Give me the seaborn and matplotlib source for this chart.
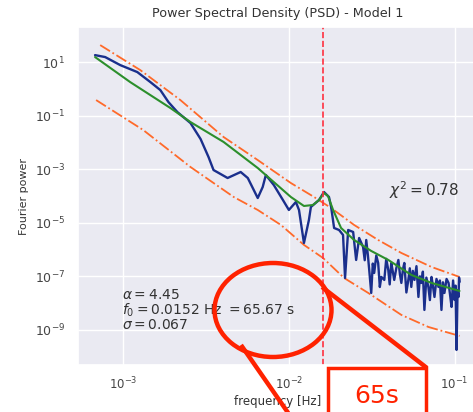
import numpy as np
import pandas as pd
import matplotlib
matplotlib.use("Agg")
import matplotlib.pyplot as plt
from matplotlib.patches import Ellipse, Rectangle
from matplotlib.ticker import FixedLocator, NullLocator
import seaborn as sns

# ---------------- data ----------------
psd_freq = [6.76e-4, 7.78e-4, 9.59e-4, 1.216e-3, 1.459e-3, 1.675e-3, 1.875e-3, 2.123e-3,
            2.547e-3, 2.931e-3, 3.273e-3, 3.508e-3, 4.266e-3, 5.117e-3, 5.649e-3, 6.053e-3,
            6.486e-3, 6.950e-3, 7.261e-3, 8.110e-3, 9.204e-3, 1.000e-2, 1.102e-2, 1.151e-2,
            1.233e-2, 1.321e-2, 1.358e-2, 1.521e-2, 1.629e-2, 1.746e-2, 1.799e-2, 1.875e-2,
            2.009e-2, 2.123e-2, 2.183e-2, 2.280e-2, 2.443e-2, 2.547e-2, 2.655e-2,
            2.805e-2, 2.87e-2, 2.931e-2, 3.0e-2, 3.055e-2, 3.141e-2, 3.21e-2, 3.273e-2,
            3.37e-2, 3.459e-2, 3.54e-2, 3.614e-2, 3.767e-2, 3.87e-2, 3.981e-2, 4.06e-2,
            4.150e-2, 4.24e-2, 4.325e-2, 4.45e-2, 4.581e-2, 4.68e-2, 4.775e-2, 4.88e-2,
            4.977e-2, 5.12e-2, 5.260e-2, 5.37e-2, 5.483e-2, 5.60e-2, 5.728e-2, 5.89e-2,
            6.053e-2, 6.18e-2, 6.310e-2, 6.44e-2, 6.577e-2, 6.76e-2, 6.950e-2, 7.10e-2,
            7.261e-2, 7.40e-2, 7.568e-2, 7.78e-2, 7.998e-2, 8.16e-2, 8.337e-2, 8.51e-2,
            8.690e-2, 8.95e-2, 9.204e-2, 9.40e-2, 9.594e-2, 9.80e-2, 1.000e-1, 1.014e-1,
            1.028e-1, 1.043e-1, 1.057e-1, 1.065e-1, 1.072e-1]
psd_power = [1.82e1, 1.54e1, 7.73, 4.24, 1.79, 0.902, 0.321, 0.136,
             5.30e-2, 1.34e-2, 2.85e-3, 9.33e-4, 4.70e-4, 7.87e-4, 4.70e-4, 1.99e-4,
             8.41e-5, 2.17e-4, 6.08e-4, 2.57e-4, 7.10e-5, 3.01e-5, 5.97e-5, 3.01e-5,
             1.76e-6, 1.27e-5, 3.89e-5, 7.10e-5, 1.41e-4, 9.18e-5, 3.89e-5, 6.40e-6,
             5.38e-6, 3.51e-6, 8.71e-8, 5.38e-6, 4.54e-6, 4.09e-7, 2.71e-6,
             1.25e-6, 4.0e-7, 2.28e-6, 6.0e-7, 1.73e-7, 2.40e-8, 3.0e-7, 1.34e-7,
             6.0e-7, 3.16e-7, 4.0e-8, 9.51e-8, 7.34e-8, 4.5e-7, 1.73e-7, 5.0e-8,
             3.16e-7, 1.5e-7, 7.34e-8, 2.0e-7, 4.09e-7, 1.2e-7, 5.68e-8, 1.8e-7,
             3.16e-7, 2.5e-8, 7.34e-8, 2.0e-7, 4.02e-8, 1.6e-7, 7.34e-8, 2.4e-7,
             1.70e-8, 1.0e-7, 5.68e-8, 1.5e-7, 5.57e-9, 9.0e-8, 4.02e-8, 1.3e-8,
             9.51e-8, 4.5e-8, 1.70e-8, 8.0e-8, 4.02e-8, 7.0e-8, 5.57e-9, 6.0e-8,
             2.40e-8, 8.0e-8, 5.68e-8, 2.0e-8, 7.21e-9, 7.0e-8, 1.32e-8, 4.5e-8,
             1.79e-10, 3.0e-8, 1.70e-8, 9.0e-8, 6.18e-8]

fit_freq = [6.76e-4, 1.102e-3, 1.928e-3, 2.547e-3, 4.036e-3, 6.486e-3, 1.028e-2, 1.233e-2,
            1.396e-2, 1.521e-2, 1.629e-2, 1.722e-2, 1.849e-2, 2.065e-2, 2.477e-2, 3.141e-2,
            3.981e-2, 5.483e-2, 7.261e-2, 1.072e-1]
fit_power = [1.54e1, 1.79, 0.192, 5.77e-2, 1.04e-2, 1.11e-3, 9.18e-5, 4.24e-5,
             4.61e-5, 7.10e-5, 1.29e-4, 1.00e-4, 3.01e-5, 6.40e-6, 2.28e-6, 8.87e-7,
             4.09e-7, 1.13e-7, 5.68e-8, 2.85e-8]

upper_freq = [7.26e-4, 1.268e-3, 2.213e-3, 4.036e-3, 6.486e-3, 1.028e-2, 1.419e-2,
              1.799e-2, 2.477e-2, 3.459e-2, 4.775e-2, 7.261e-2, 1.072e-1]
upper_power = [43.1, 5.02, 0.382, 1.59e-2, 2.20e-3, 3.05e-4, 9.18e-5,
               3.56e-5, 8.28e-6, 2.28e-6, 7.46e-7, 2.24e-7, 9.51e-8]

lower_freq = [6.86e-4, 1.321e-3, 2.547e-3, 4.645e-3, 6.486e-3, 8.954e-3, 1.233e-2,
              1.607e-2, 2.153e-2, 3.013e-2, 4.775e-2, 6.950e-2, 1.072e-1]
lower_power = [0.382, 2.90e-2, 1.21e-3, 9.18e-5, 3.01e-5, 8.28e-6, 1.49e-6,
               4.86e-7, 8.71e-8, 2.40e-8, 3.63e-9, 1.29e-9, 5.97e-10]

f0_line = 0.0161
x_ticks = [1e-3, 1e-2, 1e-1]
y_ticks = [1e1, 1e-1, 1e-3, 1e-5, 1e-7, 1e-9]

title = "Power Spectral Density (PSD) - Model 1"
xlabel = "frequency [Hz]"
ylabel = "Fourier power"
fit_text = "$\\alpha = 4.45$\n$f_0 = 0.0152$ Hz $= 65.67$ s\n$\\sigma = 0.067$"
chi_text = "$\\chi^2 = 0.78$"
callout_text = "65s"

# ---------------- figure ----------------
sns.set_theme(style="darkgrid")
plt.rcParams['font.family'] = ['DejaVu Sans']

W, H = 473, 412
fig = plt.figure(figsize=(W / 100, H / 100), dpi=100)
ax = fig.add_axes([78 / W, (H - 365) / H, (W - 78) / W + 0.01, (365 - 27) / H])

orange = "#ff6a2a"
sns.lineplot(x=upper_freq, y=upper_power, ax=ax, color=orange, linestyle="-.",
             linewidth=1.3, estimator=None, sort=False)
sns.lineplot(x=lower_freq, y=lower_power, ax=ax, color=orange, linestyle="-.",
             linewidth=1.3, estimator=None, sort=False)
sns.lineplot(x=psd_freq, y=psd_power, ax=ax, color="#1a2f8c", linewidth=1.7,
             estimator=None, sort=False)
sns.lineplot(x=fit_freq, y=fit_power, ax=ax, color="#2c8f2c", linewidth=1.5,
             estimator=None, sort=False)
ax.axvline(f0_line, color="#ff3040", linestyle="--", linewidth=1.2)

ax.set_xscale("log")
ax.set_yscale("log")
ax.set_xlim(10 ** -3.273, 10 ** -0.86)
ax.set_ylim(10 ** -10.31, 10 ** 2.31)
ax.xaxis.set_major_locator(FixedLocator(x_ticks))
ax.yaxis.set_major_locator(FixedLocator(y_ticks))
ax.xaxis.set_minor_locator(NullLocator())
ax.yaxis.set_minor_locator(NullLocator())
ax.tick_params(axis="y", labelsize=9, colors="#444444")
ax.tick_params(axis="x", labelsize=8.5, colors="#444444", pad=1.5)

ax.set_title(title, fontsize=9.2, color="#333333", pad=7)
ax.set_xlabel(xlabel, fontsize=8.5, color="#333333", labelpad=2)
ax.set_ylabel(ylabel, fontsize=8, color="#333333", labelpad=4)

ax.text(0.11, 0.163, fit_text, transform=ax.transAxes, fontsize=10, va="center",
        ha="left", color="#333333", linespacing=0.95)
ax.text(0.777, 0.518, chi_text, transform=ax.transAxes, fontsize=11, va="center",
        ha="left", color="#333333")

# ---------------- red callout overlay ----------------
ov = fig.add_axes([0, 0, 1, 1], zorder=10)
ov.set_xlim(0, W)
ov.set_ylim(H, 0)
ov.axis("off")
ov.patch.set_alpha(0)
red = "#ff2200"
ov.add_patch(Ellipse((273, 310), 117, 94, fill=False, edgecolor=red, linewidth=3.2))
ov.plot([241, 300], [345, 430], color=red, linewidth=3.2, solid_capstyle="butt")
ov.plot([322, 427], [287, 368], color=red, linewidth=3.2, solid_capstyle="butt")
ov.add_patch(Rectangle((328, 368), 98, 60, facecolor="white", edgecolor=red, linewidth=2.5))
ov.text(377, 384, callout_text, color=red, fontsize=18, ha="center", va="top")

fig.savefig("out.png", dpi=100)
